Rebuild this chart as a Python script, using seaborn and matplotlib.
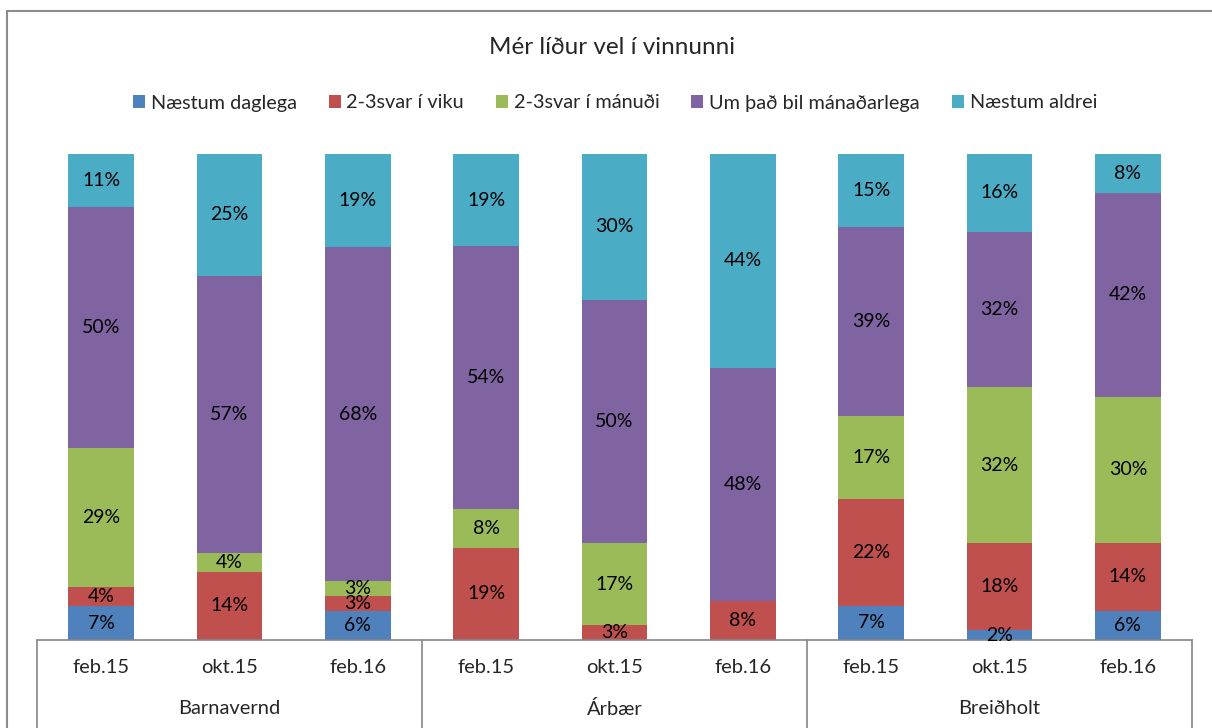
import numpy as np
import pandas as pd
import matplotlib
matplotlib.use("Agg")
import matplotlib.pyplot as plt
from matplotlib.patches import Patch, Rectangle
from matplotlib.transforms import blended_transform_factory
import seaborn as sns

# Survey answers: "Mér líður vel í vinnunni"
groups = ["Barnavernd", "Árbær", "Breiðholt"]
periods = ["feb.15", "okt.15", "feb.16"]
series = ["Næstum daglega", "2-3svar í viku", "2-3svar í mánuði",
          "Um það bil mánaðarlega", "Næstum aldrei"]

naestum_daglega = [7, 0, 6, 0, 0, 0, 7, 2, 6]
tvisvar_viku = [4, 14, 3, 19, 3, 8, 22, 18, 14]
tvisvar_manudi = [29, 4, 3, 8, 17, 0, 17, 32, 30]
manadarlega = [50, 57, 68, 54, 50, 48, 39, 32, 42]
naestum_aldrei = [11, 25, 19, 19, 30, 44, 15, 16, 8]

colors = ["#4F81BD", "#C0504D", "#9BBB59", "#8064A2", "#4BACC6"]

sns.set_theme(style="white")
plt.rcParams["font.family"] = ["Lato", "DejaVu Sans"]

values = np.array([naestum_daglega, tvisvar_viku, tvisvar_manudi,
                   manadarlega, naestum_aldrei], dtype=float)
shares = values / values.sum(axis=0)
cum = np.cumsum(shares, axis=0)

keys = [f"{g}|{p}" for g in groups for p in periods]
df = pd.DataFrame({"key": keys})

W, H = 1212, 728
fig = plt.figure(figsize=(W / 100, H / 100), dpi=100)
ax = fig.add_axes([37 / W, (H - 640) / H, (1192 - 37) / W, (640 - 154) / H])

# stacked bars: draw cumulative totals from the top layer down
for i in range(len(series) - 1, -1, -1):
    d = df.copy()
    d["val"] = cum[i]
    sns.barplot(data=d, x="key", y="val", order=keys, color=colors[i],
                saturation=1, width=0.51, ax=ax, edgecolor="none", errorbar=None)

# segment labels
for j in range(len(keys)):
    for i in range(len(series)):
        if values[i, j] > 0:
            lo = cum[i, j] - shares[i, j]
            ax.text(j, lo + shares[i, j] / 2, f"{int(values[i, j])}%",
                    ha="center", va="center", fontsize=14, color="black")

ax.set_ylim(0, 1)
ax.set_xlim(-0.5, len(keys) - 0.5)
ax.set_ylabel("")
ax.set_xlabel("")
ax.set_yticks([])
ax.set_xticks(range(len(keys)))
ax.set_xticklabels([k.split("|")[1] for k in keys], fontsize=14.5)
ax.tick_params(axis="x", length=0, pad=14)
for s in ["left", "right", "top"]:
    ax.spines[s].set_visible(False)
ax.spines["bottom"].set_color("#868686")
ax.spines["bottom"].set_linewidth(1.2)

# group separators and group labels
tr = blended_transform_factory(ax.transData, ax.transAxes)
for xb in [-0.5, 2.5, 5.5, 8.5]:
    ax.plot([xb, xb], [0, -0.25], transform=tr, color="#868686",
            lw=1.2, clip_on=False)
for gi, g in enumerate(groups):
    ax.text(gi * 3 + 1, -0.141, g, transform=tr, ha="center", va="center",
            fontsize=14.5)

# title and legend
fig.text(612 / W, 1 - 48 / H, "Mér líður vel í vinnunni", ha="center",
         va="center", fontsize=17.5)
handles = [Patch(facecolor=c, edgecolor="none") for c in colors]
fig.legend(handles, series, loc="center", bbox_to_anchor=(615 / W, 1 - 103 / H),
           ncol=5, frameon=False, fontsize=14.3, handlelength=0.6,
           handleheight=0.6, handletextpad=0.3, columnspacing=1.6)

# chart frame
fig.patches.append(Rectangle((7 / W, -0.1), 1.2, 1.1 - 11 / H,
                             transform=fig.transFigure, fill=False,
                             edgecolor="#8c8c8c", lw=1.5))

fig.savefig("out.png", dpi=100)
